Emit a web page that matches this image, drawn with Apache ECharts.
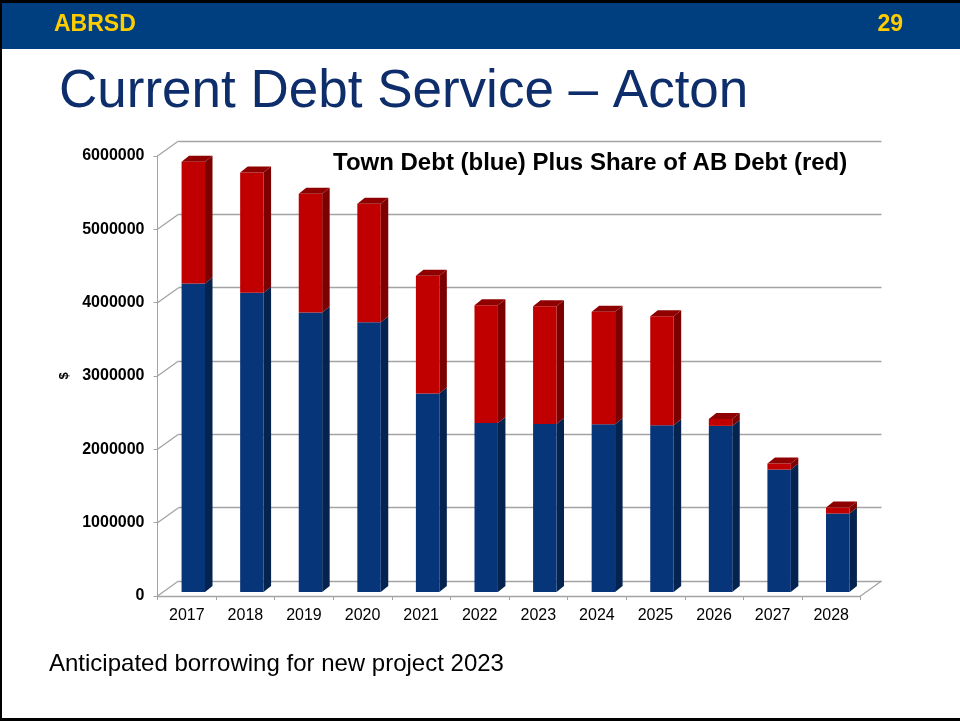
<!DOCTYPE html>
<html><head><meta charset="utf-8">
<script src="https://cdn.jsdelivr.net/npm/echarts@6/dist/echarts.min.js"></script>
<style>html,body{margin:0;padding:0;background:#fff}#c{width:960px;height:721px}</style>
</head><body><div id="c"></div>
<script>
// ---- data ----
const years = ['2017','2018','2019','2020','2021','2022','2023','2024','2025','2026','2027','2028'];
const townDebt = [4207000, 4079000, 3812000, 3679000, 2707000, 2306000, 2292000, 2288000, 2274000, 2265000, 1670000, 1070000];
const abShare  = [1659000, 1643000, 1618000, 1614000, 1604000, 1605000, 1606000, 1532000, 1487000, 95000, 82000, 81000];
const yTicks = [0, 1000000, 2000000, 3000000, 4000000, 5000000, 6000000];

// ---- styling constants ----
const FONT = 'Arial, "Liberation Sans", sans-serif';
const GRAY = '#a3a3a3';
const WALL_DX = 21, WALL_DY = -15;     // depth of the back wall
const BAR_DX = 6.5, BAR_DY = -4;       // depth of the bar plane
const BAR_SIDE_DX = 7.5, BAR_SIDE_DY = -6;
const FRONT = {left: 157.5, top: 156, width: 703, height: 440};

const chart = echarts.init(document.getElementById('c'), null, {renderer: 'canvas'});

const yMax = yTicks[yTicks.length - 1];
const yStep = yTicks[1] - yTicks[0];

function valueAxis(idx, show) {
  return {
    type: 'value', gridIndex: idx, min: yTicks[0], max: yMax, interval: yStep,
    axisLine: {show: show, lineStyle: {color: GRAY, width: 1}},
    axisTick: {show: show, length: 4, lineStyle: {color: GRAY}},
    axisLabel: {show: show, margin: 13, color: '#000', fontFamily: FONT, fontWeight: 'bold', fontSize: 16,
      formatter: v => String(v)},
    splitLine: {show: idx === 1, lineStyle: {color: GRAY, width: 1.3}}
  };
}

const option = {
  animation: false,
  backgroundColor: '#fff',
  grid: [
    {left: FRONT.left, top: FRONT.top, width: FRONT.width, height: FRONT.height},
    {left: FRONT.left + WALL_DX, top: FRONT.top + WALL_DY, width: FRONT.width, height: FRONT.height},
    {left: FRONT.left + BAR_DX, top: FRONT.top + BAR_DY, width: FRONT.width, height: FRONT.height}
  ],
  xAxis: [
    {type: 'category', gridIndex: 0, data: years,
     axisLine: {show: true, lineStyle: {color: GRAY, width: 1.3}},
     axisTick: {show: true, length: 4, lineStyle: {color: GRAY}},
     axisLabel: {margin: 12, color: '#000', fontFamily: FONT, fontSize: 16}},
    {type: 'category', gridIndex: 1, data: years, show: false},
    {type: 'category', gridIndex: 2, data: years, show: false}
  ],
  yAxis: [
    Object.assign(valueAxis(0, true), {name: '$', nameLocation: 'middle', nameGap: 82, nameRotate: 90,
      nameTextStyle: {color: '#000', fontFamily: FONT, fontWeight: 'bold', fontSize: 13}}),
    valueAxis(1, false),
    valueAxis(2, false)
  ],
  series: [
    // 3D connectors between front axis and back wall, plus floor right edge
    {type: 'custom', xAxisIndex: 0, yAxisIndex: 0, silent: true, z: 1,
     data: yTicks.map(v => [0, v]),
     renderItem: function (params, api) {
       const cs = params.coordSys;
       const v = api.value(1);
       const y = api.coord([0, v])[1];
       const kids = [{type: 'line', shape: {x1: cs.x, y1: y, x2: cs.x + WALL_DX, y2: y + WALL_DY},
                      style: {stroke: GRAY, lineWidth: 1.3}}];
       if (v === 0) {
         kids.push({type: 'line', shape: {x1: cs.x + cs.width, y1: y, x2: cs.x + cs.width + WALL_DX, y2: y + WALL_DY},
                    style: {stroke: GRAY, lineWidth: 1.3}});
       }
       return {type: 'group', children: kids};
     }},
    // stacked 3D bars
    {type: 'custom', xAxisIndex: 2, yAxisIndex: 2, z: 5,
     data: years.map((y, i) => [i, townDebt[i], abShare[i]]),
     renderItem: function (params, api) {
       const i = api.value(0), b = api.value(1), r = api.value(2);
       const base = api.coord([i, 0]);
       const pb = api.coord([i, b]);
       const pt = api.coord([i, b + r]);
       const bw = api.size([1, 0])[0] * 0.4;
       const x0 = base[0] - bw / 2, x1 = base[0] + bw / 2;
       const dx = BAR_SIDE_DX, dy = BAR_SIDE_DY;
       function seg(yTop, yBot, front, side) {
         return [
           {type: 'polygon', shape: {points: [[x1, yTop], [x1 + dx, yTop + dy], [x1 + dx, yBot + dy], [x1, yBot]]},
            style: {fill: side}},
           {type: 'rect', shape: {x: x0, y: yTop, width: bw, height: yBot - yTop}, style: {fill: front}}
         ];
       }
       const kids = [].concat(
         seg(pb[1], base[1], '#06357a', '#04234f'),
         seg(pt[1], pb[1], '#c00000', '#7d0000'),
         [{type: 'polygon', shape: {points: [[x0, pt[1]], [x0 + dx, pt[1] + dy], [x1 + dx, pt[1] + dy], [x1, pt[1]]]},
           style: {fill: '#8f0000'}}]
       );
       return {type: 'group', children: kids};
     }}
  ],
  graphic: [
    {type: 'rect', left: 0, top: 0, z: 0, shape: {width: 960, height: 49}, style: {fill: '#003f7f'}},
    {type: 'rect', left: 0, top: 0, z: 1, shape: {width: 960, height: 3}, style: {fill: '#000'}},
    {type: 'rect', left: 0, top: 0, z: 1, shape: {width: 2, height: 721}, style: {fill: '#000'}},
    {type: 'rect', left: 0, top: 718, z: 1, shape: {width: 960, height: 3}, style: {fill: '#000'}},
    {type: 'text', x: 54, y: 25, z: 2, style: {text: 'ABRSD', fill: '#ffcc00', font: 'bold 23px ' + FONT,
      textAlign: 'left', textVerticalAlign: 'middle'}},
    {type: 'text', x: 903, y: 25, z: 2, style: {text: '29', fill: '#ffcc00', font: 'bold 23px ' + FONT,
      textAlign: 'right', textVerticalAlign: 'middle'}},
    {type: 'text', x: 59, y: 92, z: 2, style: {text: 'Current Debt Service \u2013 Acton', fill: '#0e2d6b',
      font: '53px ' + FONT, textAlign: 'left', textVerticalAlign: 'middle'}},
    {type: 'text', x: 333, y: 163, z: 10, style: {text: 'Town Debt (blue) Plus Share of AB Debt (red)', fill: '#000',
      font: 'bold 24px ' + FONT, textAlign: 'left', textVerticalAlign: 'middle'}},
    {type: 'text', x: 49, y: 664, z: 2, style: {text: 'Anticipated borrowing for new project 2023', fill: '#000',
      font: '24px ' + FONT, textAlign: 'left', textVerticalAlign: 'middle'}}
  ]
};
chart.setOption(option);
</script>
</body></html>
